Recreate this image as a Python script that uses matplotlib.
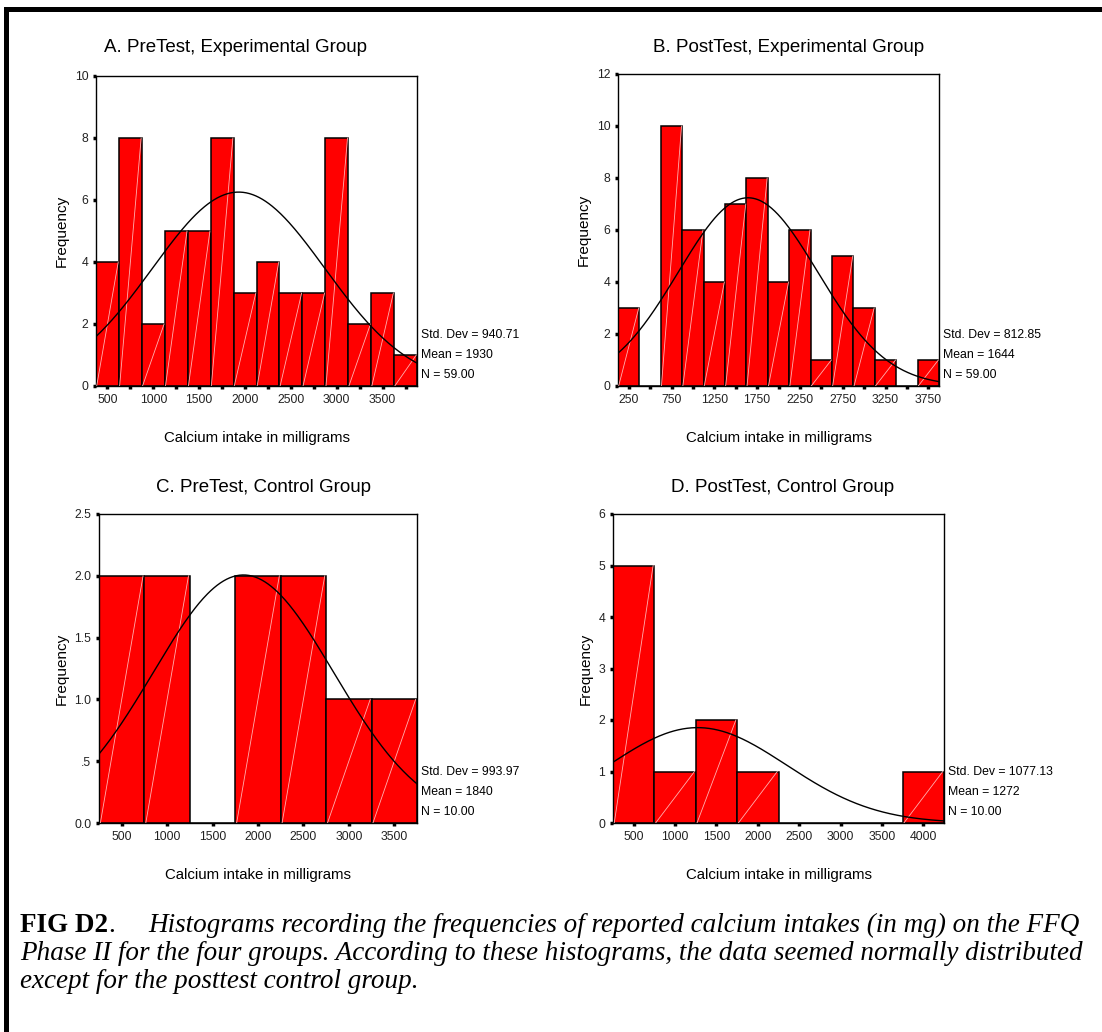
import numpy as np
import matplotlib
matplotlib.use("Agg")
from matplotlib import pyplot as plt
from matplotlib.patches import Rectangle

W, H = 1102, 1032

# bin edges start, bin width, counts
a_start, a_width = 375, 250
a_counts = [4, 8, 2, 5, 5, 8, 3, 4, 3, 3, 8, 2, 3, 1]
b_start, b_width = 125, 250
b_counts = [3, 0, 10, 6, 4, 7, 8, 4, 6, 1, 5, 3, 1, 0, 1]
c_start, c_width = 250, 500
c_counts = [2, 2, 0, 2, 2, 1, 1]
d_start, d_width = 250, 500
d_counts = [5, 1, 2, 1, 0, 0, 0, 1]

# summary stats printed beside each panel
stats = {
    "A": (940.71, 1930, 59),
    "B": (812.85, 1644, 59),
    "C": (993.97, 1840, 10),
    "D": (1077.13, 1272, 10),
}
titles = {
    "A": "A. PreTest, Experimental Group",
    "B": "B. PostTest, Experimental Group",
    "C": "C. PreTest, Control Group",
    "D": "D. PostTest, Control Group",
}
xlabel = "Calcium intake in milligrams"
caption = [
    "Histograms recording the frequencies of reported calcium intakes (in mg) on the FFQ",
    "Phase II for the four groups. According to these histograms, the data seemed normally distributed",
    "except for the posttest control group.",
]

plt.rcParams['font.family'] = ['Liberation Sans', 'DejaVu Sans']

fig = plt.figure(figsize=(W / 100, H / 100), dpi=100)


def px_axes(l, t, r, b):
    return fig.add_axes([l / W, 1 - b / H, (r - l) / W, (b - t) / H])


def draw_hist(ax, start, width, counts, key, ymax, yticks, ylabels, major, minor):
    counts = np.array(counts)
    edges = start + width * np.arange(len(counts) + 1)
    ax.bar(edges[:-1], counts, width=width, align='edge', color='#ff0000',
           edgecolor='black', linewidth=1.1, zorder=2)
    # faint diagonal streak inside each bar
    for x0, h in zip(edges[:-1], counts):
        if h > 0:
            ax.plot([x0 + width * 0.03, x0 + width * 0.97], [0, h], color='#ffb0b0',
                    lw=0.6, zorder=3)
    sd, mean, n = stats[key]
    xs = np.linspace(edges[0], edges[-1], 300)
    ys = n * width * np.exp(-0.5 * ((xs - mean) / sd) ** 2) / (sd * np.sqrt(2 * np.pi))
    ax.plot(xs, ys, color='black', lw=1.0, zorder=4)
    ax.set_xlim(edges[0], edges[-1])
    ax.set_ylim(0, ymax)
    ax.set_yticks(yticks)
    ax.set_yticklabels(ylabels)
    ax.set_xticks(major)
    ax.set_xticks(minor, minor=True)
    ax.tick_params(axis='both', which='both', direction='out', length=2.5, width=2.5,
                   labelsize=8.8, labelcolor='#222222', pad=3)
    for s in ax.spines.values():
        s.set_linewidth(1.0)
    ax.set_ylabel("Frequency", fontsize=11)
    ax.set_xlabel(xlabel, fontsize=10.8, labelpad=18)
    ax.text(1.012, 0.165, f"Std. Dev = {sd:.2f}", transform=ax.transAxes,
            fontsize=8.8, va='center', ha='left')
    ax.text(1.012, 0.100, f"Mean = {mean}", transform=ax.transAxes,
            fontsize=8.8, va='center', ha='left')
    ax.text(1.012, 0.035, f"N = {n:.2f}", transform=ax.transAxes,
            fontsize=8.8, va='center', ha='left')


axA = px_axes(96, 76, 417, 386)
draw_hist(axA, a_start, a_width, a_counts, "A", 10, [0, 2, 4, 6, 8, 10],
          ["0", "2", "4", "6", "8", "10"],
          [500, 1000, 1500, 2000, 2500, 3000, 3500],
          [750, 1250, 1750, 2250, 2750, 3250, 3750])

axB = px_axes(618, 74, 939, 386)
draw_hist(axB, b_start, b_width, b_counts, "B", 12, [0, 2, 4, 6, 8, 10, 12],
          ["0", "2", "4", "6", "8", "10", "12"],
          [250, 750, 1250, 1750, 2250, 2750, 3250, 3750],
          [500, 1000, 1500, 2000, 2500, 3000, 3500])

axC = px_axes(99, 514, 417, 823)
draw_hist(axC, c_start, c_width, c_counts, "C", 2.5, [0, 0.5, 1.0, 1.5, 2.0, 2.5],
          ["0.0", ".5", "1.0", "1.5", "2.0", "2.5"],
          [500, 1000, 1500, 2000, 2500, 3000, 3500], [])

axD = px_axes(613, 514, 944, 823)
draw_hist(axD, d_start, d_width, d_counts, "D", 6, [0, 1, 2, 3, 4, 5, 6],
          ["0", "1", "2", "3", "4", "5", "6"],
          [500, 1000, 1500, 2000, 2500, 3000, 3500, 4000], [])

# panel titles, centred where they sit in the original
for key, (cx, cy) in {"A": (236, 47), "B": (789, 47), "C": (264, 487), "D": (783, 487)}.items():
    fig.text(cx / W, 1 - cy / H, titles[key], fontsize=13.5, ha='center', va='center')

# caption
cap_font = ['Liberation Serif', 'DejaVu Serif']
cap_size = 19.5
t1 = fig.text(20 / W, 1 - 926 / H, "FIG D2", fontsize=cap_size, fontweight='bold',
              family=cap_font, va='center', ha='left')
ann = plt.annotate(".", xy=(1, 0), xycoords=t1, fontsize=cap_size, family=cap_font,
                   va='bottom', ha='left', annotation_clip=False)
plt.annotate(caption[0], xy=(1, 0), xycoords=ann, xytext=(34, 0), textcoords='offset pixels',
             fontsize=cap_size, family=cap_font, style='italic', va='bottom', ha='left',
             annotation_clip=False)
fig.text(20 / W, 1 - 953 / H, caption[1], fontsize=cap_size, family=cap_font,
         style='italic', va='center', ha='left')
fig.text(20 / W, 1 - 981 / H, caption[2], fontsize=cap_size, family=cap_font,
         style='italic', va='center', ha='left')

# frame lines on top and left of the figure
fig.add_artist(Rectangle((4 / W, 1 - 12 / H), (W - 4) / W, 5 / H, transform=fig.transFigure,
                         color='black', lw=0))
fig.add_artist(Rectangle((4 / W, 0), 5 / W, 1 - 7 / H, transform=fig.transFigure,
                         color='black', lw=0))

fig.savefig("out.png", dpi=100)
